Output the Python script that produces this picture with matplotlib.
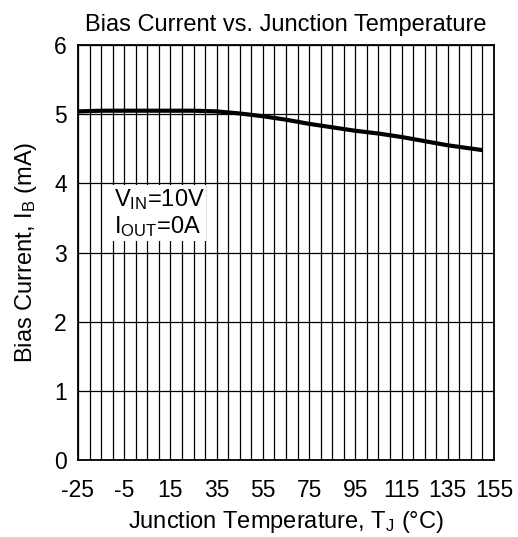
import matplotlib.pyplot as plt
import numpy as np

plt.rcParams['font.family'] = ['Liberation Sans', 'DejaVu Sans']
plt.rcParams['axes.unicode_minus'] = False

# data
temps = [-25, -15, -5, 5, 15, 25, 35, 45, 55, 65, 75, 85, 95, 105, 115, 125, 135, 150]
bias_ma = [5.04, 5.05, 5.05, 5.05, 5.05, 5.05, 5.04, 5.01, 4.97, 4.92, 4.86, 4.81,
           4.76, 4.72, 4.67, 4.61, 4.55, 4.48]
x_ticks = [-25, -5, 15, 35, 55, 75, 95, 115, 135, 155]
y_ticks = [0, 1, 2, 3, 4, 5, 6]

fig = plt.figure(figsize=(5.18, 5.37), dpi=100)
ax = fig.add_axes([78/518, 1 - 460/537, 416/518, 415/537])

ax.set_xlim(-25, 155)
ax.set_ylim(0, 6)
ax.set_xticks(x_ticks)
ax.set_xticks(np.arange(-25, 156, 5), minor=True)
ax.set_yticks(y_ticks)
ax.tick_params(which='both', length=0, labelsize=16.5)
ax.tick_params(axis='x', pad=14)
ax.tick_params(axis='y', pad=8)
ax.grid(which='both', axis='x', color='black', linewidth=0.9)
ax.grid(which='major', axis='y', color='black', linewidth=0.9)
for s in ax.spines.values():
    s.set_linewidth(1.3)

ax.plot(temps, bias_ma, color='black', linewidth=3, solid_capstyle='butt', zorder=3)

ax.text(-9.5, 3.57, '$\\mathregular{V_{IN}}$=10V\n$\\mathregular{I_{OUT}}$=0A', fontsize=17,
        va='center', ha='left', linespacing=1.15,
        bbox=dict(facecolor='white', edgecolor='none', pad=1))

ax.set_title('Bias Current vs. Junction Temperature', fontsize=17, pad=10)
ax.set_xlabel('Junction Temperature, $\\mathregular{T_J}$ (°C)', fontsize=17, labelpad=5)
ax.set_ylabel('Bias Current, $\\mathregular{I_B}$ (mA)', fontsize=17, labelpad=11)

plt.savefig('out.png', dpi=100)
